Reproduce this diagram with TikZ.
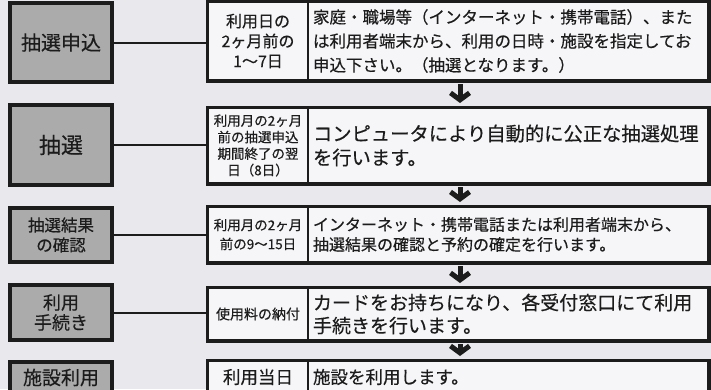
\documentclass[tikz,border=0pt]{standalone}
\usepackage{fontspec}
\setmainfont{Noto Sans CJK JP}[FakeBold=0.4]
\usetikzlibrary{arrows.meta}
\newcommand\stagex{61}
\newcommand\datex{258}
\newcommand\descx{508}
\newcommand\jsize[2]{\fontsize{#1}{#2}\selectfont}
\definecolor{ink}{HTML}{1C1C1C}
\definecolor{paper}{HTML}{E9E8EC}
\definecolor{card}{HTML}{F6F5F8}
\definecolor{tone}{HTML}{ABABAB}
\tikzset{stagebox/.style={rectangle,draw=ink,line width=3.5pt,fill=tone,text=ink,minimum width=102pt,inner sep=2pt,align=center},
  datebox/.style={rectangle,draw=ink,line width=2pt,fill=card,text=ink,minimum width=100pt,text width=94pt,inner xsep=3pt,inner ysep=2pt,align=center},
  descbox/.style={rectangle,draw=ink,line width=2pt,fill=card,text=ink,minimum width=400pt,text width=390pt,inner xsep=5pt,inner ysep=2pt,align=left},
  rowframe/.style={draw=ink,line width=3pt},
  joinline/.style={draw=ink,line width=2pt},
  flowarrow/.style={draw=ink,line width=5pt,-{Straight Barb[length=7pt,width=19pt]},shorten <=3pt,shorten >=4pt}}

\begin{document}
\begin{tikzpicture}[x=1pt,y=-1pt]
                \useasboundingbox (0,0) rectangle (711,389);
                \fill[paper] (0,0) rectangle (711,389);
                \clip (0,0) rectangle (711,389);

                \node[stagebox,minimum height=79pt,font=\jsize{20}{24}] (s1) at (\stagex,42.5) {抽選申込};
                \node[stagebox,minimum height=80pt,font=\jsize{22}{26}] (s2) at (\stagex,145) {抽選};
                \node[stagebox,minimum height=54pt,font=\jsize{16.5}{20}] (s3) at (\stagex,235) {抽選結果\\の確認};
                \node[stagebox,minimum height=55pt,font=\jsize{18}{20}] (s4) at (\stagex,312.5) {利用\\手続き};
                \node[stagebox,minimum height=31pt,font=\jsize{19}{22}] (s5) at (\stagex,377.5) {施設利用};

                \node[datebox,minimum height=78pt,font=\jsize{16}{20}] (d1) at (\datex,41) {利用日の\\2ヶ月前の\\1〜7日};
                \node[descbox,minimum height=78pt,font=\jsize{16.5}{24}] (t1) at (\descx,41) {家庭・職場等（インターネット・携帯電話）、また\\は利用者端末から、利用の日時・施設を指定してお\\申込下さい。（抽選となります。）};

                \node[datebox,minimum height=75pt,font=\jsize{13.5}{16.5}] (d2) at (\datex,145.5) {利用月の2ヶ月\\前の抽選申込\\期間終了の翌\\日（8日）};
                \node[descbox,minimum height=75pt,font=\jsize{19.3}{24}] (t2) at (\descx,145.5) {コンピュータにより自動的に公正な抽選処理\\を行います。};

                \node[datebox,minimum height=55pt,font=\jsize{13.5}{19}] (d3) at (\datex,234.5) {利用月の2ヶ月\\前の9〜15日};
                \node[descbox,minimum height=55pt,font=\jsize{16}{20}] (t3) at (\descx,234.5) {インターネット・携帯電話または利用者端末から、\\抽選結果の確認と予約の確定を行います。};

                \node[datebox,minimum height=52pt,font=\jsize{14}{18}] (d4) at (\datex,314) {使用料の納付};
                \node[descbox,minimum height=52pt,font=\jsize{19}{23}] (t4) at (\descx,314) {カードをお持ちになり、各受付窓口にて利用\\手続きを行います。};

                \node[datebox,minimum height=32pt,font=\jsize{17.5}{20}] (d5) at (\datex,377) {利用当日};
                \node[descbox,minimum height=32pt,font=\jsize{17.5}{20}] (t5) at (\descx,377) {施設を利用します。};

                \foreach \i in {1,...,5}\draw[rowframe] (d\i.north west) rectangle (t\i.south east);
                \foreach \i in {1,...,4}\draw[joinline] (s\i.east) -- (s\i.east -| d\i.west);
                \foreach \a/\b in {1/2,2/3,3/4,4/5}\draw[flowarrow] ([xshift=-48pt]t\a.south) -- ([xshift=-48pt]t\b.north);
            \end{tikzpicture}
\end{document}
